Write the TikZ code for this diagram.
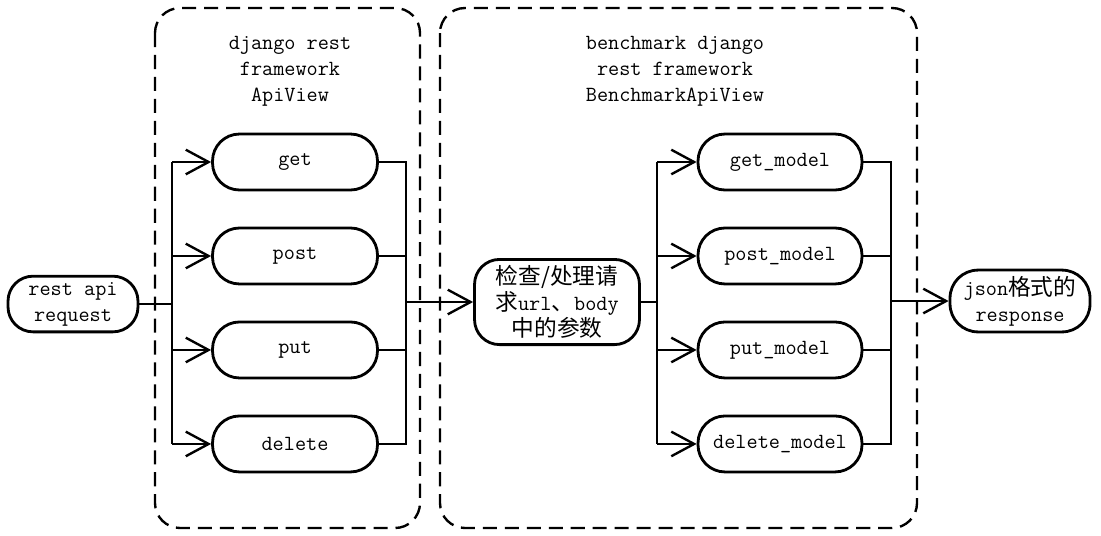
\documentclass[tikz,border=0pt]{standalone}
\usepackage{fontspec}
\newfontfamily\cjk[Scale=1.05]{Noto Sans CJK SC}
\usetikzlibrary{arrows.meta,positioning}

\begin{document}
\begin{tikzpicture}[x=0.02cm,y=-0.02cm,>={Straight Barb[length=13pt,width=14pt]},
  line width=1.35pt,node distance=1.88cm]
  \tikzstyle{every node}=[font=\ttfamily\fontsize{12.3}{14.9}\selectfont]
  \tikzstyle{pill}=[draw,line width=1.6pt,rounded corners=0.54cm,
    minimum width=3.3cm,minimum height=1.12cm,align=center]
  \tikzstyle{frame}=[draw,dash pattern=on 8pt off 4.5pt,rounded corners=0.5cm]

  \useasboundingbox (0,0) rectangle (1101,535);
  \draw[frame] (155,8) rectangle (420,528);
  \draw[frame] (440,8) rectangle (917,528);

  \node[align=center] (t1) at (290,71) {django rest\\framework\\ApiView};
  \node[align=center] (t2) at (675,71) {benchmark django\\rest framework\\BenchmarkApiView};

  \node[pill,minimum width=2.6cm,minimum height=1.04cm,rounded corners=0.5cm]
    (req) at (73,304) {rest api\\request};

  \node[pill] (get) at (295,162) {get};
  \node[pill] (post) [below of=get] {post};
  \node[pill] (put) [below of=post] {put};
  \node[pill] (delete) [below of=put] {delete};

  \node[pill,minimum height=1.6cm,rounded corners=0.5cm]
    (check) at (557,302) {{\cjk 检查/处理请}\\{\cjk 求}url{\cjk 、}body\\{\cjk 中的参数}};

  \node[pill,minimum width=3.28cm] (getm) at (780,162) {get\_model};
  \node[pill,minimum width=3.28cm] (postm) [below of=getm] {post\_model};
  \node[pill,minimum width=3.28cm] (putm) [below of=postm] {put\_model};
  \node[pill,minimum width=3.28cm] (delm) [below of=putm] {delete\_model};

  \node[pill,minimum width=2.8cm,minimum height=1.16cm,rounded corners=0.56cm]
    (json) at (1020,301) {json{\cjk 格式的}\\response};

  % buses
  \coordinate (lbus) at (172,0);
  \coordinate (rbus) at (406,0);
  \coordinate (mbus) at (657,0);
  \coordinate (nbus) at (891,0);

  \draw (req.east) -- (req.east -| lbus);
  \draw (get.west -| lbus) -- (delete.west -| lbus);
  \draw[->] (get.west -| lbus) -- (get.west);
  \draw[->] (post.west -| lbus) -- (post.west);
  \draw[->] (put.west -| lbus) -- (put.west);
  \draw[->] (delete.west -| lbus) -- (delete.west);

  \draw (get.east) -- (get.east -| rbus) -- (delete.east -| rbus) -- (delete.east);
  \draw (post.east) -- (post.east -| rbus);
  \draw (put.east) -- (put.east -| rbus);
  \draw[->] (check.west -| rbus) -- (check.west);

  \draw (check.east) -- (check.east -| mbus);
  \draw (getm.west -| mbus) -- (delm.west -| mbus);
  \draw[->] (getm.west -| mbus) -- (getm.west);
  \draw[->] (postm.west -| mbus) -- (postm.west);
  \draw[->] (putm.west -| mbus) -- (putm.west);
  \draw[->] (delm.west -| mbus) -- (delm.west);

  \draw (getm.east) -- (getm.east -| nbus) -- (delm.east -| nbus) -- (delm.east);
  \draw (postm.east) -- (postm.east -| nbus);
  \draw (putm.east) -- (putm.east -| nbus);
  \draw[->] (json.west -| nbus) -- (json.west);
\end{tikzpicture}
\end{document}
